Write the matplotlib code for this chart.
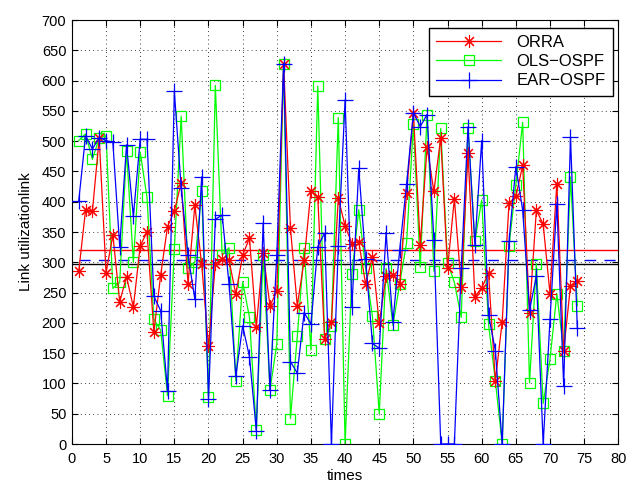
import matplotlib
matplotlib.use("Agg")
import matplotlib.pyplot as plt
import numpy as np

times = list(range(1, 75))
orra = [285, 386, 384, 505, 283, 345, 235, 276, 226, 327,
        350, 185, 279, 359, 385, 431, 265, 394, 297, 161,
        297, 305, 304, 247, 312, 340, 193, 316, 228, 252,
        627, 356, 228, 303, 418, 407, 174, 202, 406, 360,
        331, 334, 264, 309, 199, 278, 279, 265, 415, 547,
        329, 490, 417, 506, 290, 405, 260, 480, 243, 258,
        282, 104, 202, 398, 409, 460, 217, 386, 363, 248,
        430, 154, 261, 269]
ols = [501, 512, 470, 505, 509, 257, 267, 484, 300, 482,
       407, 206, 188, 80, 322, 541, 290, 300, 417, 78,
       592, 312, 324, 104, 268, 209, 23, 312, 89, 165,
       627, 42, 178, 323, 155, 591, 174, 195, 539, 0,
       281, 387, 290, 211, 50, 290, 196, 265, 332, 528,
       292, 544, 285, 521, 299, 267, 209, 522, 335, 403,
       198, 104, 0, 327, 428, 531, 101, 298, 67, 140,
       248, 154, 441, 228]
ear = [401, 509, 487, 506, 501, 498, 326, 494, 376, 503,
       503, 244, 220, 88, 582, 423, 312, 239, 441, 75,
       371, 378, 265, 112, 195, 144, 22, 365, 89, 312,
       628, 136, 117, 217, 198, 326, 348, 0, 327, 568,
       226, 455, 305, 166, 158, 348, 202, 321, 429, 547,
       524, 544, 337, 0, 0, 0, 290, 524, 329, 501,
       213, 154, 0, 335, 458, 386, 221, 277, 0, 206,
       397, 96, 507, 191]
orra_level = 320
ear_level = 304
ols_level = 298

plt.rcParams['font.family'] = ['Liberation Sans', 'DejaVu Sans']
fig = plt.figure(figsize=(6.29, 4.86), dpi=100)
ax = fig.add_axes([0.1143, 0.0864, 0.8687, 0.8724])

ax.plot([0, 80], [ols_level, ols_level], color='black', lw=1.0, zorder=1)
ax.plot([1, 80], [orra_level, orra_level], color='red', lw=1.0, zorder=1)
ax.plot([1, 80], [ear_level, ear_level], color='blue', lw=1.0, dashes=(8, 6), zorder=1)

ax.plot(times, orra, color='red', lw=0.9, marker=(8, 2, 0), ms=9, mew=0.8, label='ORRA', zorder=3)
ax.plot(times, ols, color=(0, 1, 0), lw=0.9, marker='s', ms=7, mfc='none', mew=0.9,
        label='OLS\u2212OSPF', zorder=2)
ax.plot(times, ear, color='blue', lw=0.9, marker='+', ms=11, mew=0.9, label='EAR\u2212OSPF', zorder=4)

ax.set_xlim(0, 80)
ax.set_ylim(0, 700)
ax.set_xticks(np.arange(0, 81, 5))
ax.set_yticks(np.arange(0, 701, 50))
ax.tick_params(direction='in', top=True, right=True, labelsize=10.5, length=4)
ax.tick_params(axis='x', pad=6)
ax.tick_params(axis='y', pad=4)
ax.grid(True, linestyle=(0, (1, 4)), color='black', lw=0.6)
ax.set_xlabel('times', fontsize=11, labelpad=2)
ax.set_ylabel('Link utilizationlink', fontsize=11, labelpad=6)
for s in ax.spines.values():
    s.set_linewidth(0.8)

leg = ax.legend(loc='upper right', bbox_to_anchor=(0.99, 0.982), borderaxespad=0,
                fontsize=12, fancybox=False, edgecolor='black', framealpha=1,
                handlelength=3.9, borderpad=0.45, labelspacing=0.25, handletextpad=0.9)
leg.get_frame().set_linewidth(1.0)

fig.savefig('out.png', dpi=100)
